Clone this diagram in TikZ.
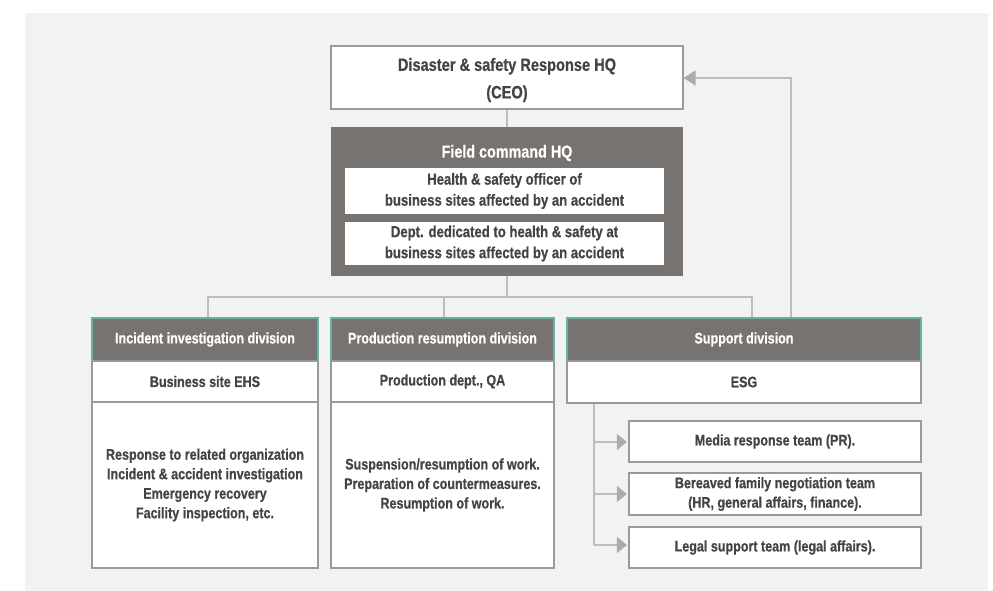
\documentclass[tikz,border=0pt]{standalone}
\usepackage{fontspec}
\setmainfont[FakeStretch=0.82, BoldFeatures={FakeBold=0.6}]{Liberation Sans}
\usetikzlibrary{arrows.meta}
\definecolor{bgc}{HTML}{F1F2F2}
\definecolor{darkc}{HTML}{767370}
\definecolor{tealc}{HTML}{6AAFA6}
\definecolor{bordc}{HTML}{9A9A9A}
\definecolor{linec}{HTML}{BDBDBD}
\definecolor{txtc}{HTML}{444444}
\definecolor{arrc}{HTML}{ABABAB}
\tikzset{
  wbox/.style={draw=bordc, line width=1.2pt, fill=white, inner sep=0pt, align=center,
    text=txtc, font=\bfseries\fontsize{15.3}{19.5}\selectfont},
  hdr/.style={draw=tealc, line width=1.2pt, fill=darkc, inner sep=0pt, align=center,
    text=white, font=\bfseries\fontsize{15.3}{19.5}\selectfont},
  conn/.style={draw=linec, line width=1.5pt},
  tarr/.style={conn, -{Triangle[width=16pt,length=10pt,fill=arrc,color=arrc]}},
}
\begin{document}
\begin{tikzpicture}[x=1pt,y=-1pt]
\useasboundingbox (0,0) rectangle (993,591);
\fill[bgc] (25,13) rectangle (988,591);
% top
\node[wbox, minimum width=352, minimum height=63] (top) at (507,77.5) {};
\node[align=center, inner sep=0pt, text=txtc, font=\bfseries\fontsize{17.8}{25}\selectfont] (topt) at (507,80) {Disaster \& safety Response HQ\\[2.5pt](CEO)};
% field command
\node[draw=none, fill=darkc, minimum width=352, minimum height=149, inner sep=0pt] (field) at (507,201.5) {};
\node[text=white, font=\bfseries\fontsize{17.5}{20}\selectfont, inner sep=0pt] (fieldt) at (507,153) {Field command HQ};
\node[wbox, draw=none, minimum width=319, minimum height=46, font=\bfseries\fontsize{16}{21}\selectfont] (in1) at (504.5,191) {Health \& safety officer of\\business sites affected by an accident};
\node[wbox, draw=none, minimum width=319, minimum height=43, font=\bfseries\fontsize{16}{21}\selectfont] (in2) at (504.5,243.5) {Dept. dedicated to health \& safety at\\business sites affected by an accident};
% divisions
\node[hdr, minimum width=226, minimum height=43] (lh) at (205,339.5) {Incident investigation division};
\node[wbox, minimum width=226, minimum height=41] (ls) at (205,381.5) {Business site EHS};
\node[wbox, minimum width=226, minimum height=166] (lb) at (205,485) {Response to related organization\\Incident \& accident investigation\\Emergency recovery\\Facility inspection, etc.};
\node[hdr, minimum width=223, minimum height=43] (mh) at (442.5,339.5) {Production resumption division};
\node[wbox, minimum width=223, minimum height=41] (ms) at (442.5,381.5) {Production dept., QA};
\node[wbox, minimum width=223, minimum height=166] (mb) at (442.5,485) {Suspension/resumption of work.\\Preparation of countermeasures.\\Resumption of work.};
\node[hdr, minimum width=354, minimum height=43] (rh) at (744,339.5) {Support division};
\node[wbox, minimum width=354, minimum height=42] (rs) at (744,382) {ESG};
% teams
\node[wbox, minimum width=292, minimum height=41] (t1) at (775,441.5) {Media response team (PR).};
\node[wbox, minimum width=292, minimum height=42] (t2) at (775,494) {Bereaved family negotiation team\\(HR, general affairs, finance).};
\node[wbox, minimum width=292, minimum height=41] (t3) at (775,547.5) {Legal support team (legal affairs).};
% re-draw header borders on top
\draw[tealc, line width=1.2pt] (lh.south west) -- (lh.north west) -- (lh.north east) -- (lh.south east);
\draw[tealc, line width=1.2pt] (mh.south west) -- (mh.north west) -- (mh.north east) -- (mh.south east);
\draw[tealc, line width=1.2pt] (rh.south west) -- (rh.north west) -- (rh.north east) -- (rh.south east);
% connectors
\coordinate (bus) at (507,297);
\draw[conn] (top.south) -- (field.north);
\draw[conn] (field.south) -- (bus);
\draw[conn] (208,318 |- lh.north) -- (208,297) -- (752,297) -- (752,318 |- rh.north);
\draw[conn] (444,297) -- (444,318 |- mh.north);
\coordinate (fb) at (791,78);
\draw[conn, -{Triangle[width=15pt,length=12pt,fill=arrc,color=arrc]}] (791,318 |- rh.north) -- (fb) -- (top.east |- fb);
\coordinate (sv) at (594,403);
\draw[conn] (sv |- rs.south) -- (594,545);
\draw[tarr, shorten >=1.5pt] (594,442) -- (t1.west |- 594,442);
\draw[tarr, shorten >=1.5pt] (594,494) -- (t2.west);
\draw[tarr, shorten >=1.5pt] (594,545) -- (t3.west |- 594,545);
\end{tikzpicture}
\end{document}
